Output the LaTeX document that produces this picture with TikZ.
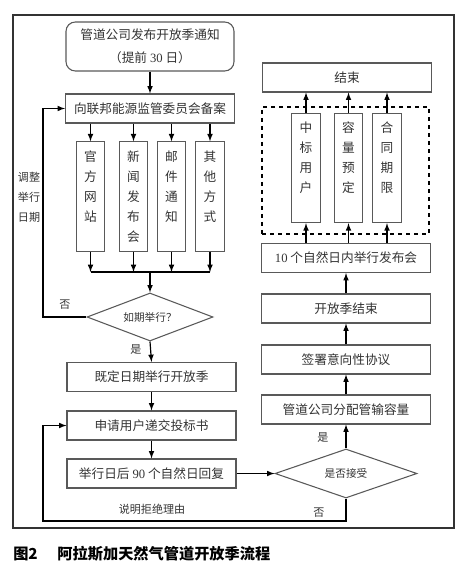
\documentclass[tikz,border=0pt]{standalone}
\usepackage{fontspec}
\setmainfont{Liberation Serif}
\newfontfamily\cjk{Noto Sans CJK SC}
\newfontfamily\latinfont{Liberation Serif}
\newcommand\lat[1]{{\latinfont #1}}
\usepackage{tikz}
\usetikzlibrary{positioning,shapes,arrows}
\usepackage{xcolor}
\tikzstyle{flowbox}=[rectangle, draw=black!65, line width=0.8pt, minimum width=126.75pt,
minimum height=21.75pt, inner sep=0pt, text=black!80, font=\cjk\fontsize{9.5pt}{12pt}\selectfont]
\tikzstyle{tallbox}=[rectangle, draw=black!65, line width=0.8pt, minimum width=21.5pt,
minimum height=82pt, inner sep=0pt, align=center, text=black!80, font=\cjk\fontsize{9.5pt}{15pt}\selectfont]
\tikzstyle{decision}=[diamond, draw=black!65, line width=0.8pt, inner sep=0pt, text=black!80,
font=\cjk\fontsize{8pt}{10pt}\selectfont]
\tikzstyle{note}=[inner sep=0pt, text=black!80, align=center, font=\cjk\fontsize{8.3pt}{15pt}\selectfont]
\tikzstyle{link}=[draw=black, line width=0.9pt, -latex]

\begin{document}
\begin{tikzpicture}[x=0.75pt, y=-0.75pt]
            \useasboundingbox (0,0) rectangle (467,573);
            \draw[black!80, line width=0.8pt] (13,15) rectangle (454,528);
            % left column
            \node (1)[flowbox, rounded corners=7pt, minimum width=126pt, minimum height=36.75pt, align=center,
                font=\cjk\fontsize{9.5pt}{17pt}\selectfont] at (150,46.5)
                {管道公司发布开放季通知\\（提前 \lat{30} 日）};
            \node (2)[flowbox] at (150,108.5) {向联邦能源监管委员会备案};
            \node (3)[tallbox] at (90.5,196.5) {官\\方\\网\\站\\\phantom{站}};
            \node (4)[tallbox] at (133.5,196.5) {新\\闻\\发\\布\\会};
            \node (5)[tallbox] at (171.5,196.5) {邮\\件\\通\\知\\\phantom{知}};
            \node (6)[tallbox] at (210,196.5) {其\\他\\方\\式\\\phantom{式}};
            \coordinate (bus) at (150,272);
            \node (7)[decision, aspect=2.6, minimum width=94.5pt, minimum height=36pt] at (150,317) {如期举行？};
            \coordinate (turn) at (43,317);
            \node (8)[flowbox] at (151.5,377) {既定日期举行开放季};
            \node (9)[flowbox] at (151.5,425.5) {申请用户递交投标书};
            \node (10)[flowbox] at (151.5,473.5) {举行日后 \lat{90} 个自然日回复};
            % right column
            \node (11)[decision, aspect=2.9, minimum width=106.5pt, minimum height=36.75pt] at (346,473.5) {是否接受};
            \coordinate (back) at (43,521);
            \node (12)[flowbox] at (346,409.5) {管道公司分配管输容量};
            \node (13)[flowbox] at (346,359.5) {签署意向性协议};
            \node (14)[flowbox] at (346,308.5) {开放季结束};
            \node (15)[flowbox] at (346,258) {\lat{10} 个自然日内举行发布会};
            \node (16)[rectangle, draw=black, dashed, line width=0.8pt, minimum width=125.25pt,
                minimum height=95.25pt, inner sep=0pt] at (345.5,170.5) {};
            \node (17)[tallbox] at (306,168) {中\\标\\用\\户\\\phantom{户}};
            \node (18)[tallbox] at (348.5,168) {容\\量\\预\\定\\\phantom{定}};
            \node (19)[tallbox] at (387,168) {合\\同\\期\\限\\\phantom{限}};
            \node (20)[flowbox] at (347,77.5) {结束};
            % labels
            \node (no1)[note] at (65,305) {否};
            \node (adjust)[note] at (29,197) {调整\\举行\\日期};
            \node (yes1)[note] at (136,350) {是};
            \node (yes2)[note] at (323,438) {是};
            \node (no2)[note] at (319,513) {否};
            \node (reason)[note] at (152,509) {说明拒绝理由};
            \node (caption)[anchor=west, inner sep=0pt, font=\cjk\bfseries\fontsize{11.4pt}{14pt}\selectfont]
                at (13,554) {图2\hspace{1.3em}阿拉斯加天然气管道开放季流程};
            % connectors
            \draw[link] (1) -- (2);
            \foreach \b in {3,4,5,6}
                \draw[link] (\b.north |- 2.south) -- (\b.north);
            \foreach \b in {3,4,5,6}
                \draw[link] (\b.south) -- (\b.south |- bus);
            \draw[black, line width=0.9pt] (3.south |- bus) -- (6.south |- bus);
            \draw[link] (bus) -- (7.north);
            \draw[link] (7.west) -- (turn) |- (2.west);
            \draw[link] (7.south) -- (8.north);
            \draw[link] (8) -- (9);
            \draw[link] (9) -- (10);
            \draw[link] (10.east) -- (11.west);
            \draw[link] (11.north) -- (12.south);
            \draw[link] (11.south) |- (back) |- (9.west);
            \draw[link] (12) -- (13);
            \draw[link] (13) -- (14);
            \draw[link] (14) -- (15);
            \foreach \b in {17,18,19}
                \draw[link] (\b.south |- 15.north) -- (\b.south);
            \foreach \b in {17,18,19}
                \draw[link] (\b.north) -- (\b.north |- 20.south);
        \end{tikzpicture}
\end{document}
